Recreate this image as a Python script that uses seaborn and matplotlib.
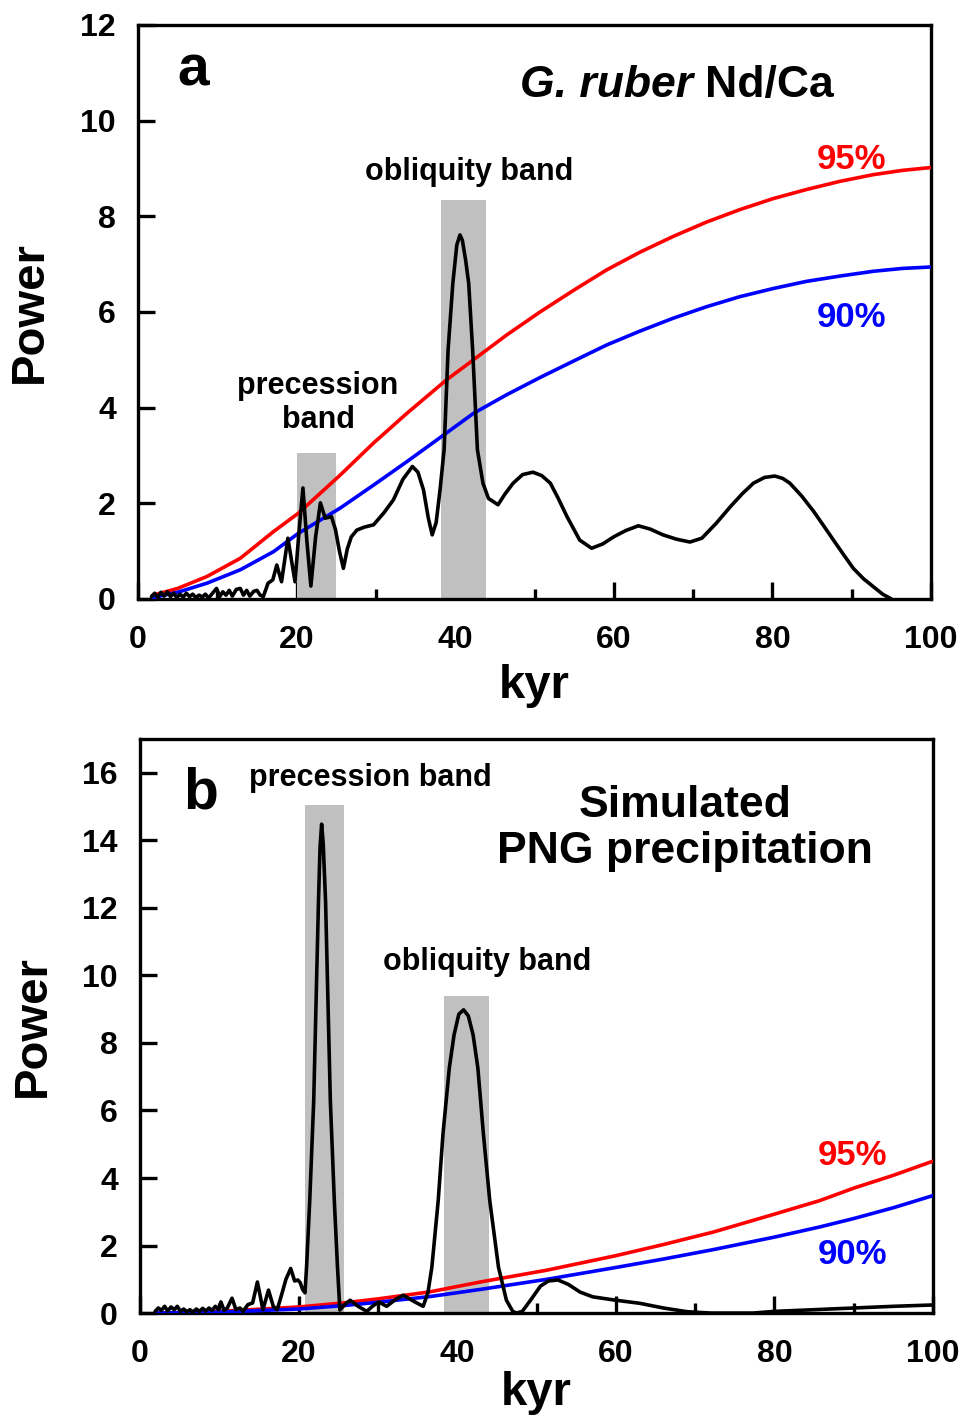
import seaborn as sns
import matplotlib.pyplot as plt
from matplotlib.ticker import MultipleLocator

# ---- panel a : G. ruber Nd/Ca spectrum ----
kyr_a = [1.7, 2.1, 2.5, 2.9, 3.3, 3.7, 4.1, 4.5, 4.9, 5.3, 5.7, 6.1, 6.5, 6.9, 7.3, 7.7,
         8.1, 8.5, 8.9, 9.4, 9.9, 10.3, 10.7, 11.1, 11.5, 11.9, 12.4, 12.9, 13.3, 13.7,
         14.1, 14.6, 15.0, 15.4, 15.8, 16.4, 17.0, 17.5, 18.1, 18.9, 19.8, 20.3, 20.8,
         21.3, 21.8, 22.4, 23.0, 23.6, 24.4, 24.9, 25.4, 25.9, 26.4, 26.9, 27.6, 28.5,
         29.7, 31.0, 32.2, 33.4, 34.6, 35.3, 36.0, 36.6, 37.1, 37.6, 38.1, 38.6, 39.1,
         39.7, 40.2, 40.6, 40.9, 41.3, 41.7, 42.2, 42.8, 43.5, 44.2, 45.4, 46.3, 47.3,
         48.5, 49.8, 50.9, 52.0, 53.0, 54.1, 55.7, 57.2, 58.6, 60.0, 61.5, 63.1, 64.6,
         66.2, 67.9, 69.6, 71.1, 72.9, 74.7, 76.2, 77.6, 79.0, 80.3, 81.3, 82.2, 83.7,
         85.2, 86.5, 87.7, 89.0, 90.2, 91.5, 92.7, 93.9, 95.0]
power_a = [0.05, 0.12, 0.04, 0.14, 0.06, 0.15, 0.05, 0.12, 0.03, 0.10, 0.04, 0.12, 0.05,
           0.10, 0.03, 0.08, 0.04, 0.10, 0.02, 0.12, 0.22, 0.05, 0.15, 0.08, 0.18, 0.06,
           0.20, 0.22, 0.08, 0.18, 0.06, 0.16, 0.18, 0.08, 0.05, 0.33, 0.40, 0.71, 0.36,
           1.27, 0.36, 1.40, 2.32, 1.20, 0.27, 1.30, 2.01, 1.69, 1.72, 1.45, 1.00, 0.64,
           1.05, 1.30, 1.44, 1.50, 1.55, 1.80, 2.07, 2.50, 2.77, 2.65, 2.28, 1.70, 1.34,
           1.60, 2.30, 3.12, 5.20, 6.60, 7.40, 7.61, 7.50, 7.10, 6.60, 5.20, 3.12, 2.42,
           2.10, 1.97, 2.20, 2.42, 2.60, 2.65, 2.58, 2.42, 2.10, 1.72, 1.23, 1.06, 1.15,
           1.30, 1.43, 1.53, 1.46, 1.34, 1.25, 1.19, 1.27, 1.58, 1.93, 2.20, 2.42, 2.54,
           2.57, 2.52, 2.42, 2.15, 1.83, 1.52, 1.23, 0.92, 0.64, 0.42, 0.26, 0.10, 0.00]

conf_kyr_a = [1.9, 5.0, 8.7, 12.9, 17.1, 20.2, 25.5, 29.7, 33.9, 38.9, 42.3, 46.5, 50.7,
              55.0, 59.1, 63.3, 67.5, 71.7, 75.9, 80.1, 84.3, 88.5, 92.7, 96.4, 100.0]
conf95_a = [0.08, 0.22, 0.47, 0.85, 1.41, 1.79, 2.59, 3.26, 3.88, 4.58, 5.00, 5.52, 6.00,
            6.46, 6.88, 7.25, 7.58, 7.88, 8.14, 8.37, 8.56, 8.73, 8.87, 8.96, 9.02]
conf90_a = [0.03, 0.14, 0.33, 0.61, 0.99, 1.37, 1.90, 2.38, 2.87, 3.47, 3.88, 4.27, 4.63,
            4.98, 5.31, 5.60, 5.87, 6.11, 6.32, 6.49, 6.64, 6.75, 6.85, 6.91, 6.94]

band_lo_a = [20.0, 38.2]
band_hi_a = [25.0, 43.9]
band_top_a = [3.05, 8.35]

# ---- panel b : simulated PNG precipitation spectrum ----
kyr_b = [1.9, 2.3, 2.7, 3.1, 3.5, 3.9, 4.3, 4.7, 5.1, 5.5, 5.9, 6.3, 6.7, 7.1, 7.5, 7.9,
         8.3, 8.7, 9.1, 9.5, 9.9, 10.2, 10.6, 11.0, 11.6, 12.1, 12.6, 13.0, 13.6, 14.2,
         14.8, 15.5, 16.2, 16.8, 17.3, 17.8, 18.4, 19.0, 19.5, 19.9, 20.2, 20.5, 20.8,
         21.0, 21.4, 21.9, 22.2, 22.5, 22.7, 22.9, 23.1, 23.4, 23.7, 24.0, 24.5, 24.9,
         25.2, 25.8, 26.5, 27.5, 28.6, 29.3, 30.1, 31.1, 32.2, 33.2, 34.5, 35.7, 36.3,
         36.8, 37.6, 38.2, 39.0, 39.6, 40.2, 40.8, 41.4, 42.0, 42.6, 43.3, 44.1, 45.2,
         46.2, 47.0, 47.5, 48.2, 49.3, 50.5, 51.5, 52.7, 54.0, 55.5, 57.1, 60.0, 63.0,
         66.0, 69.0, 72.0, 77.3, 80.0, 85.0, 90.0, 95.0, 100.0]
power_b = [0.05, 0.15, 0.08, 0.20, 0.06, 0.18, 0.10, 0.20, 0.05, 0.12, 0.04, 0.10, 0.03,
           0.12, 0.05, 0.14, 0.06, 0.15, 0.08, 0.20, 0.10, 0.33, 0.08, 0.15, 0.44, 0.10,
           0.15, 0.05, 0.25, 0.30, 0.92, 0.10, 0.68, 0.20, 0.10, 0.50, 1.00, 1.32, 0.95,
           0.98, 0.90, 0.70, 0.60, 1.36, 3.33, 6.28, 9.22, 12.17, 13.80, 14.48, 13.90,
           12.17, 9.22, 6.28, 3.33, 1.36, 0.09, 0.25, 0.38, 0.20, 0.05, 0.20, 0.33, 0.20,
           0.40, 0.53, 0.35, 0.20, 0.60, 1.36, 3.33, 5.30, 7.26, 8.24, 8.85, 8.98, 8.80,
           8.24, 7.26, 5.30, 3.33, 1.36, 0.38, 0.05, 0.00, 0.05, 0.40, 0.80, 0.95, 0.98,
           0.85, 0.62, 0.48, 0.38, 0.29, 0.15, 0.04, 0.00, 0.00, 0.05, 0.10, 0.15, 0.20,
           0.24]

conf_kyr_b = [2.0, 10.0, 20.0, 25.6, 30.0, 36.6, 42.9, 51.3, 60.0, 66.0, 72.3, 80.0, 85.7,
              90.0, 95.0, 100.0]
conf95_b = [0.00, 0.05, 0.18, 0.30, 0.42, 0.63, 0.92, 1.27, 1.70, 2.03, 2.40, 2.93, 3.33,
            3.70, 4.08, 4.50]
conf90_b = [0.00, 0.03, 0.12, 0.22, 0.32, 0.49, 0.70, 1.00, 1.35, 1.60, 1.88, 2.25, 2.55,
            2.80, 3.12, 3.48]

band_lo_b = [20.8, 38.3]
band_hi_b = [25.7, 44.0]
band_top_b = [15.06, 9.4]

sns.set_style("ticks")
plt.rcParams['font.family'] = ['Liberation Sans', 'DejaVu Sans']
plt.rcParams['font.weight'] = 'bold'
plt.rcParams['axes.labelweight'] = 'bold'
plt.rcParams['text.color'] = 'black'
plt.rcParams['axes.labelcolor'] = 'black'
plt.rcParams['xtick.color'] = 'black'
plt.rcParams['ytick.color'] = 'black'

GREY = '#c0c0c0'
LW = 2.6


def draw_panel(ax, kyr, power, ck, c95, c90, lo, hi, top, ymax, xpad):
    widths = [h - l for l, h in zip(lo, hi)]
    ax.bar(lo, top, width=widths, align='edge', color=GREY, linewidth=0, zorder=1)
    sns.lineplot(x=ck, y=c95, ax=ax, color='red', lw=LW, sort=False, estimator=None, zorder=3)
    sns.lineplot(x=ck, y=c90, ax=ax, color='blue', lw=LW, sort=False, estimator=None, zorder=3)
    sns.lineplot(x=kyr, y=power, ax=ax, color='black', lw=LW, sort=False, estimator=None,
                 zorder=4, solid_joinstyle='round')
    ax.set_xlim(0, 100)
    ax.set_ylim(0, ymax)
    ax.xaxis.set_major_locator(MultipleLocator(20))
    ax.xaxis.set_minor_locator(MultipleLocator(10))
    ax.yaxis.set_major_locator(MultipleLocator(2))
    ax.tick_params(axis='both', which='major', direction='in', length=12, width=2.4,
                   labelsize=23, top=False, right=False)
    ax.tick_params(axis='x', which='minor', direction='in', length=7.5, width=2.4)
    ax.tick_params(axis='x', which='major', pad=19)
    ax.tick_params(axis='y', which='major', pad=16)
    for s in ax.spines.values():
        s.set_linewidth(2.4)
        s.set_color('black')
    ax.set_xlabel('kyr', fontsize=34, labelpad=xpad)
    ax.set_ylabel('Power', fontsize=34, labelpad=20)


fig = plt.figure(figsize=(9.65, 14.18), dpi=100)
ax_a = fig.add_axes([0.1430, 0.5776, 0.8218, 0.4048])
ax_b = fig.add_axes([0.1451, 0.0740, 0.8218, 0.4048])

draw_panel(ax_a, kyr_a, power_a, conf_kyr_a, conf95_a, conf90_a,
           band_lo_a, band_hi_a, band_top_a, 12, 6)
draw_panel(ax_b, kyr_b, power_b, conf_kyr_b, conf95_b, conf90_b,
           band_lo_b, band_hi_b, band_top_b, 17, 1)

# panel a text
ax_a.text(6.9, 11.05, 'a', fontsize=41, ha='center', va='center')
ax_a.text(70.0, 10.5, 'G. ruber', fontsize=32, style='italic', ha='right', va='baseline')
ax_a.text(71.5, 10.5, 'Nd/Ca', fontsize=32, ha='left', va='baseline')
ax_a.text(41.7, 8.93, 'obliquity band', fontsize=22, ha='center', va='center')
ax_a.text(22.7, 4.1, 'precession\nband', fontsize=22, ha='center', va='center',
          linespacing=1.15)
ax_a.text(90.0, 9.18, '95%', fontsize=25, color='red', ha='center', va='center')
ax_a.text(90.0, 5.88, '90%', fontsize=25, color='blue', ha='center', va='center')

# panel b text
ax_b.text(7.6, 15.4, 'b', fontsize=41, ha='center', va='center')
ax_b.text(29.0, 15.85, 'precession band', fontsize=22, ha='center', va='center')
ax_b.text(68.7, 14.35, 'Simulated\nPNG precipitation', fontsize=32, ha='center',
          va='center', linespacing=1.18)
ax_b.text(43.8, 10.4, 'obliquity band', fontsize=22, ha='center', va='center')
ax_b.text(89.8, 4.66, '95%', fontsize=25, color='red', ha='center', va='center')
ax_b.text(89.8, 1.74, '90%', fontsize=25, color='blue', ha='center', va='center')

fig.savefig('out.png', dpi=100)
